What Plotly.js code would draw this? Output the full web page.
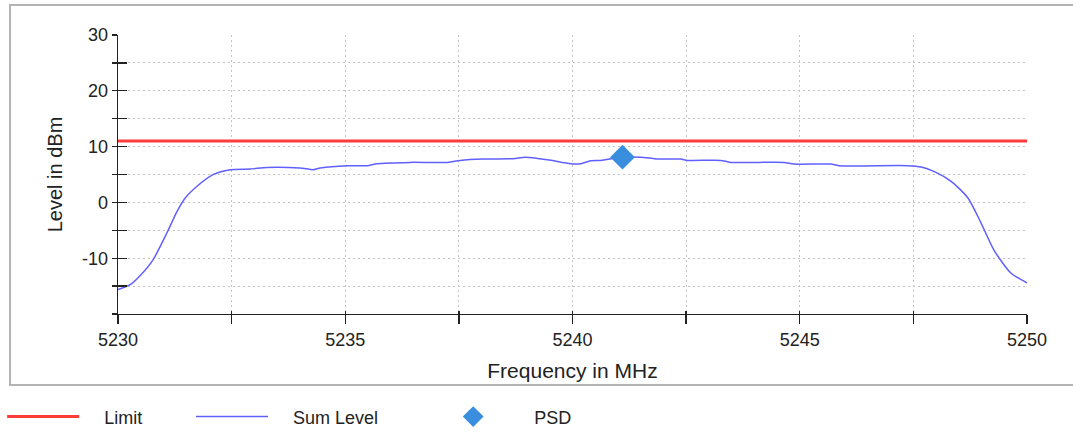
<!DOCTYPE html>
<html>
<head>
<meta charset="utf-8">
<script src="https://cdn.plot.ly/plotly-3.0.1.min.js"></script>
<style>
html,body{margin:0;padding:0;background:#fff;}
#chart{width:1073px;height:432px;}
</style>
</head>
<body>
<div id="chart"></div>
<script>
// ---- data ----
var freqMHz = [5230.0, 5230.26, 5230.48, 5230.77, 5231.08, 5231.30, 5231.48, 5231.74, 5232.09, 5232.47,
  5232.91, 5233.28, 5234.0, 5234.30, 5234.45, 5235.04, 5235.48, 5235.70, 5236.43, 5237.25,
  5237.53, 5238.04, 5238.70, 5238.96, 5239.45, 5239.96, 5240.18, 5240.40, 5240.62, 5241.08,
  5241.50, 5241.87, 5242.38, 5242.53, 5243.26, 5243.48, 5244.65, 5244.87, 5245.68, 5245.86,
  5247.38, 5247.67, 5247.95, 5248.33, 5248.70, 5248.99, 5249.27, 5249.65, 5250.0];
var sumLevel = [-15.6, -14.8, -13.2, -10.3, -5.4, -1.6, 0.8, 2.9, 4.97, 5.86,
  5.98, 6.27, 6.16, 5.86, 6.16, 6.58, 6.58, 6.94, 7.17, 7.17,
  7.53, 7.77, 7.83, 8.1, 7.65, 6.94, 6.94, 7.47, 7.53, 8.1,
  8.1, 7.77, 7.77, 7.53, 7.53, 7.17, 7.17, 6.87, 6.87, 6.58,
  6.58, 6.34, 5.56, 3.77, 0.8, -3.7, -8.5, -12.7, -14.4];
var limitFreq = [5230, 5250];
var limitLevel = [11, 11];
var psdFreq = [5241.1];
var psdLevel = [8.1];

var xTickVals = [5230, 5232.5, 5235, 5237.5, 5240, 5242.5, 5245, 5247.5, 5250];
var xTickText = ['5230', '', '5235', '', '5240', '', '5245', '', '5250'];
var yTickVals = [-20, -15, -10, -5, 0, 5, 10, 15, 20, 25, 30];
var yTickText = ['', '', '-10', '', '0', '', '10', '', '20', '', '30'];

var xRange = [5230, 5250];
var yRange = [-20, 30];

// ---- traces ----
var FONT = 'Liberation Sans, Arial, sans-serif';
var PAD = '\u00a0\u00a0\u00a0\u00a0';   // gap between legend symbol and its label
var traces = [
  {x: limitFreq, y: limitLevel, mode: 'lines', name: PAD + 'Limit',
   line: {color: '#ff3c3c', width: 3}, legend: 'legend', hoverinfo: 'skip'},
  {x: freqMHz, y: sumLevel, mode: 'lines', name: PAD + 'Sum Level',
   line: {color: '#6060ff', width: 1.5, shape: 'spline', smoothing: 0.7}, legend: 'legend2'},
  {x: psdFreq, y: psdLevel, mode: 'markers', name: PAD + 'PSD',
   marker: {symbol: 'diamond', color: '#3a8ede', size: 19}, legend: 'legend3'},
  // invisible helper trace that carries the secondary (inside) tick axes
  {x: psdFreq, y: psdLevel, xaxis: 'x2', yaxis: 'y2', mode: 'markers',
   marker: {opacity: 0}, showlegend: false, hoverinfo: 'skip'}
];

var gridStyle = {gridcolor: '#c4c4c4', griddash: '2px,3px', gridwidth: 1};

var legendCommon = {
  orientation: 'h', xref: 'container', yref: 'container',
  xanchor: 'left', yanchor: 'middle', itemwidth: 72,
  font: {family: FONT, size: 18, color: '#222'}, bgcolor: 'rgba(0,0,0,0)'
};

var layout = {
  width: 1073, height: 432,
  margin: {l: 118, r: 46, t: 35, b: 118},
  paper_bgcolor: '#ffffff', plot_bgcolor: '#ffffff',
  font: {family: FONT, size: 18, color: '#222'},
  showlegend: true,
  xaxis: Object.assign({
    range: xRange, tickmode: 'array', tickvals: xTickVals, ticktext: xTickText,
    ticks: 'outside', ticklen: 9, tickwidth: 1.3, tickcolor: '#222',
    showline: true, linecolor: '#222', linewidth: 1.3, zeroline: false,
    tickfont: {family: FONT, size: 18, color: '#222'},
    title: {text: 'Frequency in MHz', font: {family: FONT, size: 21, color: '#222'}, standoff: 14},
    fixedrange: true
  }, gridStyle),
  yaxis: Object.assign({
    range: yRange, tickmode: 'array', tickvals: yTickVals, ticktext: yTickText,
    ticks: 'outside', ticklen: 5, tickwidth: 1.3, tickcolor: '#222',
    showline: true, linecolor: '#222', linewidth: 1.3, zeroline: false,
    tickfont: {family: FONT, size: 18, color: '#222'},
    title: {text: 'Level in dBm', font: {family: FONT, size: 20, color: '#222'}, standoff: 14},
    fixedrange: true
  }, gridStyle),
  xaxis2: {
    overlaying: 'x', anchor: 'y', side: 'bottom', range: xRange,
    tickmode: 'array', tickvals: xTickVals, ticks: 'inside', ticklen: 3, tickwidth: 1.3,
    tickcolor: '#222', showticklabels: false, showgrid: false, showline: false, zeroline: false,
    fixedrange: true
  },
  yaxis2: {
    overlaying: 'y', anchor: 'x', side: 'left', range: yRange,
    tickmode: 'array', tickvals: yTickVals, ticks: 'inside', ticklen: 9, tickwidth: 1.3,
    tickcolor: '#222', showticklabels: false, showgrid: false, showline: false, zeroline: false,
    fixedrange: true
  },
  legend: Object.assign({x: 0.002, y: 0.035}, legendCommon),
  legend2: Object.assign({x: 0.178, y: 0.035}, legendCommon),
  legend3: Object.assign({x: 0.4028, y: 0.035}, legendCommon),
  shapes: [
    {type: 'rect', xref: 'paper', yref: 'paper', layer: 'below',
     x0: -0.1188, x1: 1.2, y0: -0.2545, y1: 1.1075,
     line: {color: '#b4b4b4', width: 2}, fillcolor: 'rgba(0,0,0,0)'}
  ]
};

Plotly.newPlot('chart', traces, layout, {displayModeBar: false, staticPlot: true});
</script>
</body>
</html>
